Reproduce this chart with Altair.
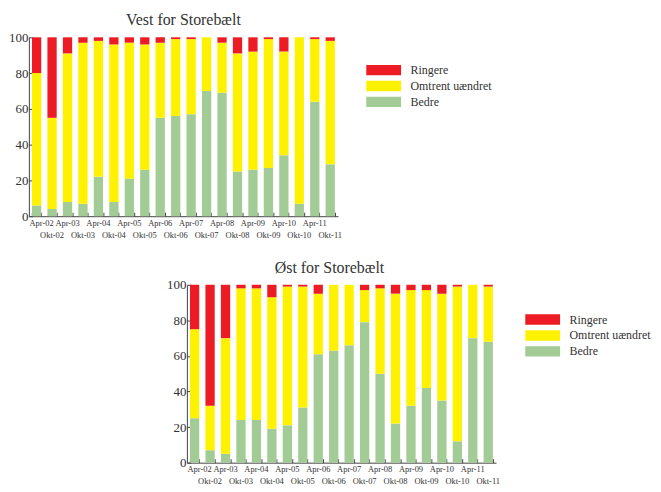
import altair as alt
import pandas as pd

perioder = ["Apr-02", "Okt-02", "Apr-03", "Okt-03", "Apr-04", "Okt-04", "Apr-05", "Okt-05",
            "Apr-06", "Okt-06", "Apr-07", "Okt-07", "Apr-08", "Okt-08", "Apr-09", "Okt-09",
            "Apr-10", "Okt-10", "Apr-11", "Okt-11"]
kategorier = ["Ringere", "Omtrent uændret", "Bedre"]
farver = ["#ED1C24", "#FFF200", "#A3CB96"]

vest_bedre = [6, 4, 8, 7, 22, 8, 21, 26, 55, 56, 57, 70, 69, 25, 26, 27, 34, 7, 64, 29]
vest_omtrent = [74, 51, 83, 90, 76, 88, 76, 70, 42, 43, 42, 30, 28, 66, 66, 72, 58, 93, 35, 69]
vest_ringere = [20, 45, 9, 3, 2, 4, 3, 4, 3, 1, 1, 0, 3, 9, 8, 1, 8, 0, 1, 2]

oest_bedre = [25, 7, 5, 24, 24, 19, 21, 31, 61, 63, 66, 79, 50, 22, 32, 42, 35, 12, 70, 68]
oest_omtrent = [50, 25, 65, 74, 74, 74, 78, 68, 34, 37, 34, 18, 48, 73, 65, 55, 60, 87, 30, 31]
oest_ringere = [25, 68, 30, 2, 2, 7, 1, 1, 5, 0, 0, 3, 2, 5, 3, 3, 5, 1, 0, 1]

FONT = "Liberation Serif"
TXT = "#333333"
AX = "#444444"
W = 311


def make_df(ringere, omtrent, bedre):
    rows = []
    for i, p in enumerate(perioder):
        rows.append({"periode": p, "kategori": "Bedre", "andel": bedre[i], "ord": 0})
        rows.append({"periode": p, "kategori": "Omtrent uændret", "andel": omtrent[i], "ord": 1})
        rows.append({"periode": p, "kategori": "Ringere", "andel": ringere[i], "ord": 2})
    return pd.DataFrame(rows)


def panel(titel, df, lx, ly, tdx, h):
    xscale = alt.Scale(paddingInner=0.4, paddingOuter=0.2)
    yscale = alt.Scale(domain=[0, 100])
    bars = alt.Chart(df).mark_bar().encode(
        x=alt.X("periode:N", sort=perioder, scale=xscale, title=None,
                axis=alt.Axis(orient="bottom", ticks=False, domain=True, domainColor=AX,
                              labelAngle=0, labelFont=FONT, labelFontSize=8.5, labelColor=TXT,
                              labelPadding=2, labelLineHeight=12, labelOverlap=False,
                              labelOffset={"expr": "datum.value == '" + perioder[0] + "' ? 5 : 0"},
                              labelExpr="indexof(datum.value, 'Okt') == 0 ? ['', datum.value] : datum.value")),
        y=alt.Y("andel:Q", stack="zero", scale=yscale, title=None,
                axis=alt.Axis(orient="left", values=[0, 20, 40, 60, 80, 100], ticks=False,
                              domain=True, domainColor=AX, grid=False, labelFont=FONT,
                              labelFontSize=13, labelColor=TXT, labelPadding=1)),
        color=alt.Color("kategori:N", scale=alt.Scale(domain=kategorier, range=farver),
                        legend=alt.Legend(title=None, orient="none", legendX=lx, legendY=ly,
                                          symbolType="M-5,-1.5H5V1.5H-5Z", symbolSize=49,
                                          symbolStrokeWidth=0, labelFont=FONT, labelFontSize=12,
                                          labelColor=TXT, labelOffset=21, rowPadding=4)),
        order=alt.Order("ord:Q", sort="ascending"),
    )
    ticks = alt.Chart(df).mark_bar(opacity=0).encode(
        x=alt.X("periode:N", sort=perioder, scale=xscale, title=None,
                axis=alt.Axis(orient="bottom", labels=False, domain=False, ticks=True,
                              tickSize=4, tickColor=AX, tickBand="extent", offset=-4)),
        y=alt.Y("andel:Q", stack=None, scale=yscale, title=None,
                axis=alt.Axis(orient="left", values=[0, 20, 40, 60, 80, 100], labels=False,
                              domain=False, ticks=True, tickSize=4, tickColor=AX, grid=False,
                              offset=-4)),
    )
    return alt.layer(bars, ticks).resolve_axis(x="independent", y="independent").properties(
        width=W, height=h,
        title=alt.TitleParams(titel, font=FONT, fontSize=16, fontWeight="normal", color=TXT,
                              anchor="middle", offset=3, dx=tdx),
    )


vest = panel("Vest for Storebælt", make_df(vest_ringere, vest_omtrent, vest_bedre), 351, 27, 0, 180)
oest = panel("Øst for Storebælt", make_df(oest_ringere, oest_omtrent, oest_bedre), 352, 29, -12, 179)

spacer = alt.Chart(pd.DataFrame({"s": [0]})).mark_point(opacity=0).properties(width=138, height=1)

chart = alt.vconcat(
    vest,
    alt.hconcat(spacer, oest, spacing=0).resolve_scale(color="independent"),
    spacing=21,
).resolve_scale(color="independent").properties(
    padding={"left": 0, "top": 3, "right": 2, "bottom": 1}
).configure_view(strokeWidth=0)

chart.save("out.html", embed_options={"renderer": "svg", "actions": False})
